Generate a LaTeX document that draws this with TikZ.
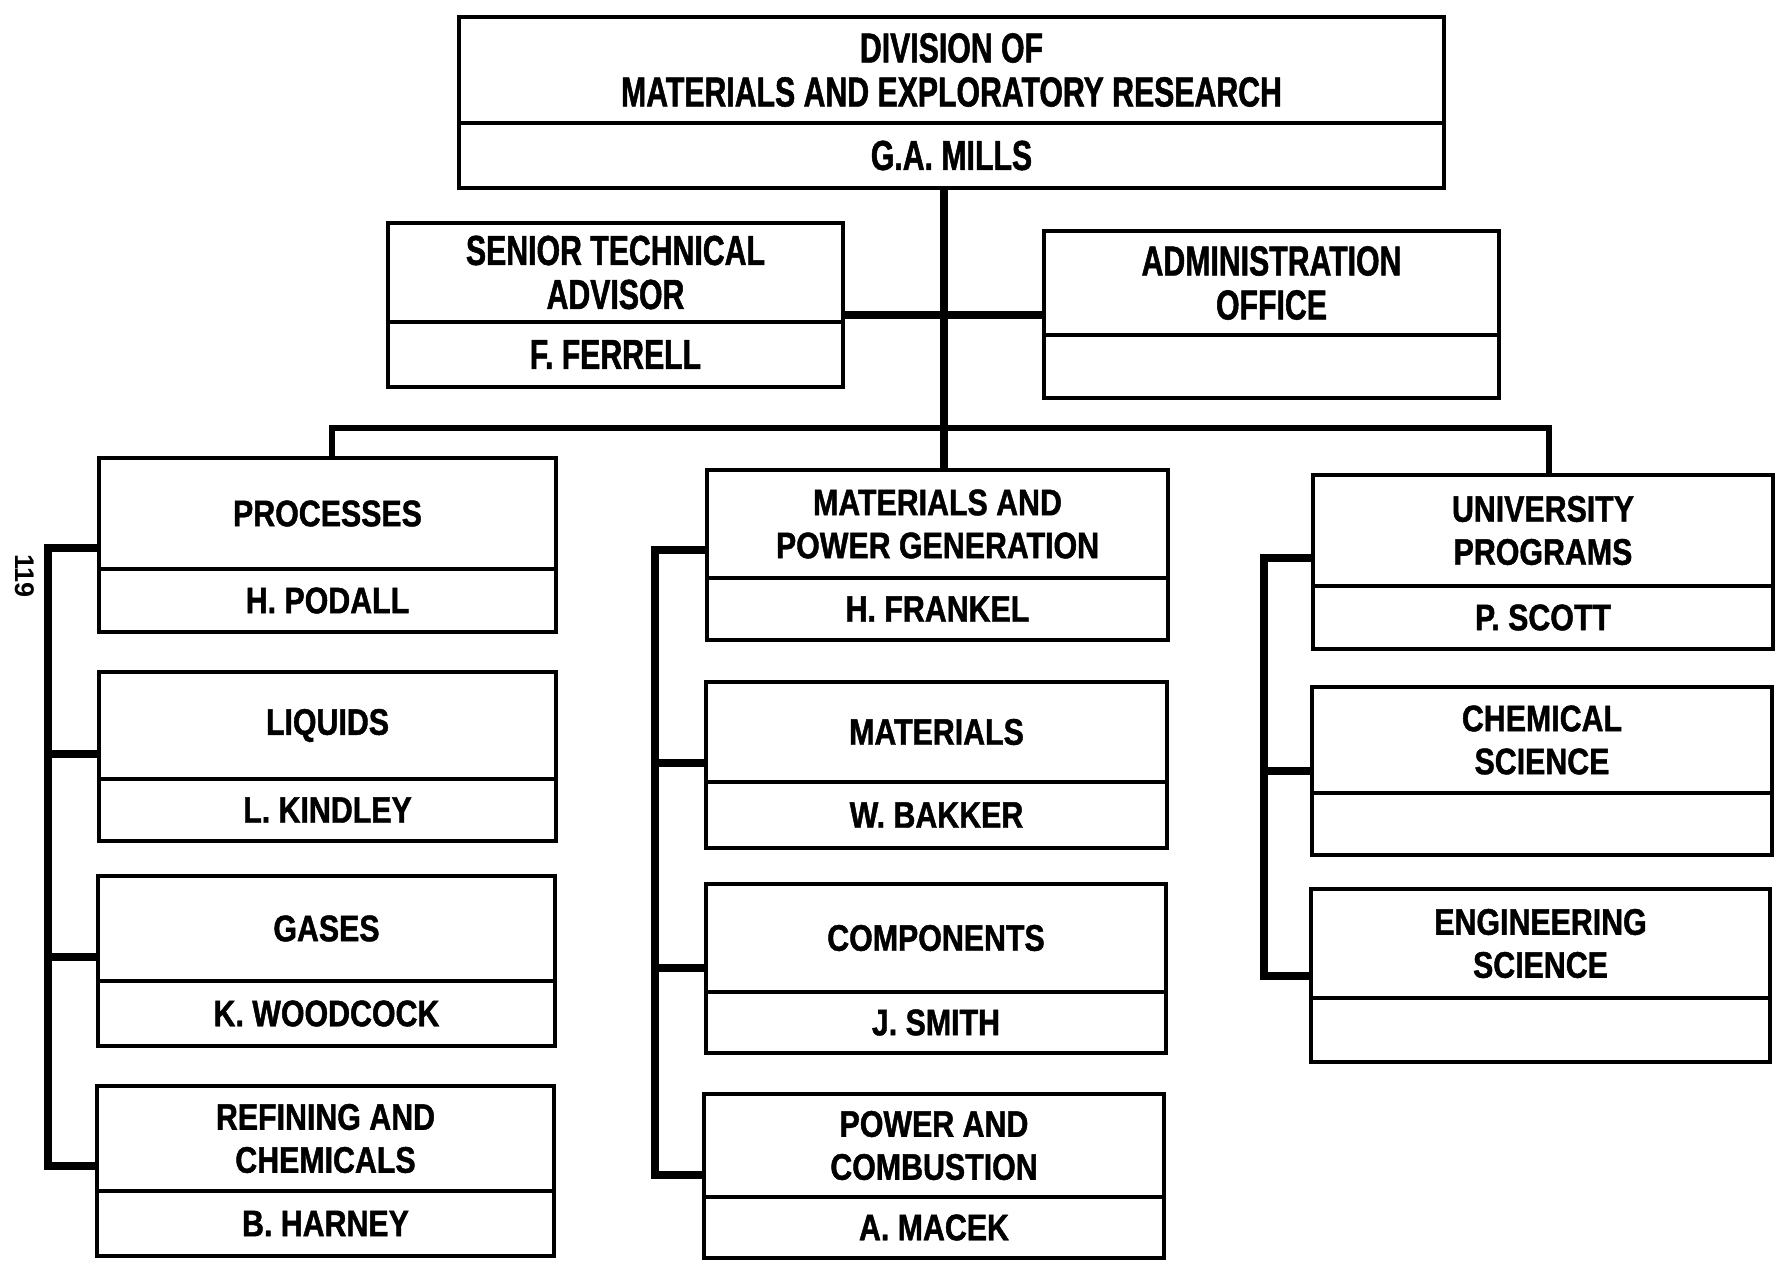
\documentclass[tikz,border=0pt]{standalone}
\usepackage{fontspec}
% condensed bold face for the upper boxes, a wider one for the branch boxes
\newfontfamily\headfont{Liberation Sans}[FakeStretch=0.72,FakeBold=1.2]
\newfontfamily\unitfont{Liberation Sans}[FakeStretch=0.82,FakeBold=1.2]
\newfontfamily\pagefont{Liberation Sans}

% one organisational unit: frame, divider, title and head of unit
% #1 name, #2 left, #3 top, #4 right, #5 bottom, #6 divider y, #7 text style, #8 title, #9 person
\newcommand\orgunit[9]{%
  \node[frame, anchor=north west, minimum width={(#4-#2)*1pt}, minimum height={(#5-#3)*1pt}] (#1) at (#2,#3) {};
  \draw[divider] (#1.west |- 0,#6) -- (#1.east |- 0,#6);
  \node[#7] (#1-title) at ({(#2+#4)/2},{(#3+#6)/2}) {#8};
  \node[#7] (#1-name) at ({(#2+#4)/2},{(#6+#5)/2}) {#9};
}

\begin{document}
\begin{tikzpicture}[x=1pt,y=-1pt,
  frame/.style={draw=black, line width=4.5pt, rectangle, inner sep=0pt, outer sep=0pt},
  divider/.style={line width=3.5pt},
  link/.style={line width=8.5pt, line cap=butt, line join=miter},
  bus/.style={line width=6pt, line cap=butt, line join=miter},
  headtext/.style={align=center, inner sep=0pt, font=\headfont\bfseries\fontsize{42}{44}\selectfont},
  unittext/.style={align=center, inner sep=0pt, font=\unitfont\bfseries\fontsize{37}{43}\selectfont},
]
\useasboundingbox (0,0) rectangle (1783,1261);

% ---- directorate and staff
\orgunit{apex}{459}{17}{1444}{188}{123}{headtext}{DIVISION OF\\MATERIALS AND EXPLORATORY RESEARCH}{G.A. MILLS}
\orgunit{senior}{388}{223}{843}{387}{322}{headtext}{SENIOR TECHNICAL\\ADVISOR}{F. FERRELL}
\orgunit{admin}{1044}{231}{1499}{398}{335}{headtext}{ADMINISTRATION\\OFFICE}{}

% ---- processes branch
\orgunit{proc}{99}{458}{556}{632}{569}{unittext}{PROCESSES}{H. PODALL}
\orgunit{liq}{99}{672}{556}{841}{779}{unittext}{LIQUIDS}{L. KINDLEY}
\orgunit{gas}{98}{876}{555}{1046}{981}{unittext}{GASES}{K. WOODCOCK}
\orgunit{ref}{97}{1086}{554}{1256}{1191}{unittext}{REFINING AND\\CHEMICALS}{B. HARNEY}

% ---- materials and power generation branch
\orgunit{mpg}{707}{470}{1168}{640}{578}{unittext}{MATERIALS AND\\POWER GENERATION}{H. FRANKEL}
\orgunit{mat}{706}{682}{1167}{848}{782}{unittext}{MATERIALS}{W. BAKKER}
\orgunit{comp}{706}{884}{1166}{1053}{992}{unittext}{COMPONENTS}{J. SMITH}
\orgunit{pc}{704}{1094}{1164}{1258}{1197}{unittext}{POWER AND\\COMBUSTION}{A. MACEK}

% ---- university programs branch
\orgunit{univ}{1313}{475}{1773}{649}{586}{unittext}{UNIVERSITY\\PROGRAMS}{P. SCOTT}
\orgunit{chem}{1312}{687}{1772}{855}{793}{unittext}{CHEMICAL\\SCIENCE}{}
\orgunit{eng}{1311}{889}{1770}{1062}{998}{unittext}{ENGINEERING\\SCIENCE}{}

% ---- connectors
\coordinate (trunk) at (944,0);
\coordinate (busL) at (332,428);
\coordinate (busR) at (1549,428);
\draw[link] (apex.south -| trunk) -- (mpg.north -| trunk);
\draw[link] (senior.east |- 0,315) -- (admin.west |- 0,315);
\draw[bus] (proc.north -| busL) -- (busL) -- (busR) -- (univ.north -| busR);

% left bracket
\coordinate (lb) at (48,0);
\draw[link] (proc.west |- 0,548) -- (lb |- 0,548) -- (lb |- 0,1166) -- (ref.west |- 0,1166);
\draw[link] (lb |- 0,754) -- (liq.west |- 0,754);
\draw[link] (lb |- 0,957) -- (gas.west |- 0,957);

% middle bracket
\coordinate (mb) at (655,0);
\draw[link] (mpg.west |- 0,550) -- (mb |- 0,550) -- (mb |- 0,1175) -- (pc.west |- 0,1175);
\draw[link] (mb |- 0,763) -- (mat.west |- 0,763);
\draw[link] (mb |- 0,968) -- (comp.west |- 0,968);

% right bracket
\coordinate (rb) at (1264,0);
\draw[link] (univ.west |- 0,558) -- (rb |- 0,558) -- (rb |- 0,976) -- (eng.west |- 0,976);
\draw[link] (rb |- 0,771) -- (chem.west |- 0,771);

% page number
\node[font=\pagefont\bfseries\fontsize{27}{27}\selectfont, rotate=-90, inner sep=0pt] (folio) at (25,576) {119};
\end{tikzpicture}
\end{document}
